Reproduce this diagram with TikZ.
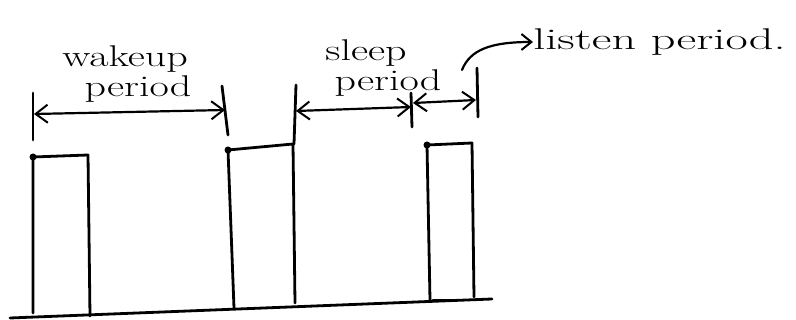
\documentclass[tikz,border=0pt]{standalone}
\usetikzlibrary{arrows.meta}
\begin{document}
\begin{tikzpicture}[x=1pt,y=-1pt,
  pen/.style={line width=2.8pt,line cap=round,line join=round,black},
  dim/.style={line width=2.2pt,line cap=round,{Straight Barb[length=12pt,width=18pt,line width=2pt]}-{Straight Barb[length=12pt,width=18pt,line width=2pt]}},
  lbl/.style={font=\fontsize{30}{32}\selectfont,inner sep=0pt,xscale=1.4},
  blob/.style={fill=black,circle,inner sep=0pt,minimum size=7pt}]
\useasboundingbox[fill=white] (0,0) rectangle (796,320);
% baseline
\coordinate (b0) at (10,318);
\coordinate (b1) at (492,299);
\draw[pen] (b0) -- (b1);
% pulses
\draw[pen] (33,313) -- (33,157) -- (88,155) -- (90,316);
\draw[pen] (234,308) -- (228,150) -- (293,144) -- (295,303);
\draw[pen] (430,300) -- (427,145) -- (472,143) -- (474,297);
\draw[pen] (433,300) -- (450,300);
\node[blob] (d1) at (33,157) {};
\node[blob] (d2) at (228,150) {};
\node[blob] (d3) at (427,145) {};
% ticks
\coordinate (t1a) at (33,93);  \coordinate (t1b) at (33,140);
\coordinate (t2a) at (222,86); \coordinate (t2b) at (228,135);
\coordinate (t3a) at (296,85); \coordinate (t3b) at (294,144);
\coordinate (t4a) at (411,93); \coordinate (t4b) at (412,127);
\coordinate (t5a) at (477,68); \coordinate (t5b) at (478,117);
\draw[pen] (t1a) -- (t1b);
\draw[pen] (t2a) -- (t2b);
\draw[pen] (t3a) -- (t3b);
\draw[pen] (t4a) -- (t4b);
\draw[pen] (t5a) -- (t5b);
% dimension arrows
\coordinate (w0) at (34,114); \coordinate (w1) at (225,110);
\coordinate (s0) at (296,111); \coordinate (s1) at (411,107);
\coordinate (l0) at (413,103); \coordinate (l1) at (476,100);
\draw[dim] (w0) -- (w1);
\draw[dim] (s0) -- (s1);
\draw[dim] (l0) -- (l1);
% labels
\node[lbl] (wk) at (125,59) {wakeup};
\node[lbl] (wp) at (138,89) {period};
\node[lbl] (sl) at (366,53) {sleep};
\node[lbl] (sp) at (388,83) {period};
\node[lbl,xscale=1.15,anchor=west] (lp) at (533,42) {listen period.};
% curved pointer
\coordinate (c0) at (462,70);
\draw[line width=2.2pt,line cap=round,-{Straight Barb[length=10pt,width=16pt,line width=2pt]}]
  (c0) .. controls (470,50) and (490,42) .. (lp.west);
\end{tikzpicture}
\end{document}
